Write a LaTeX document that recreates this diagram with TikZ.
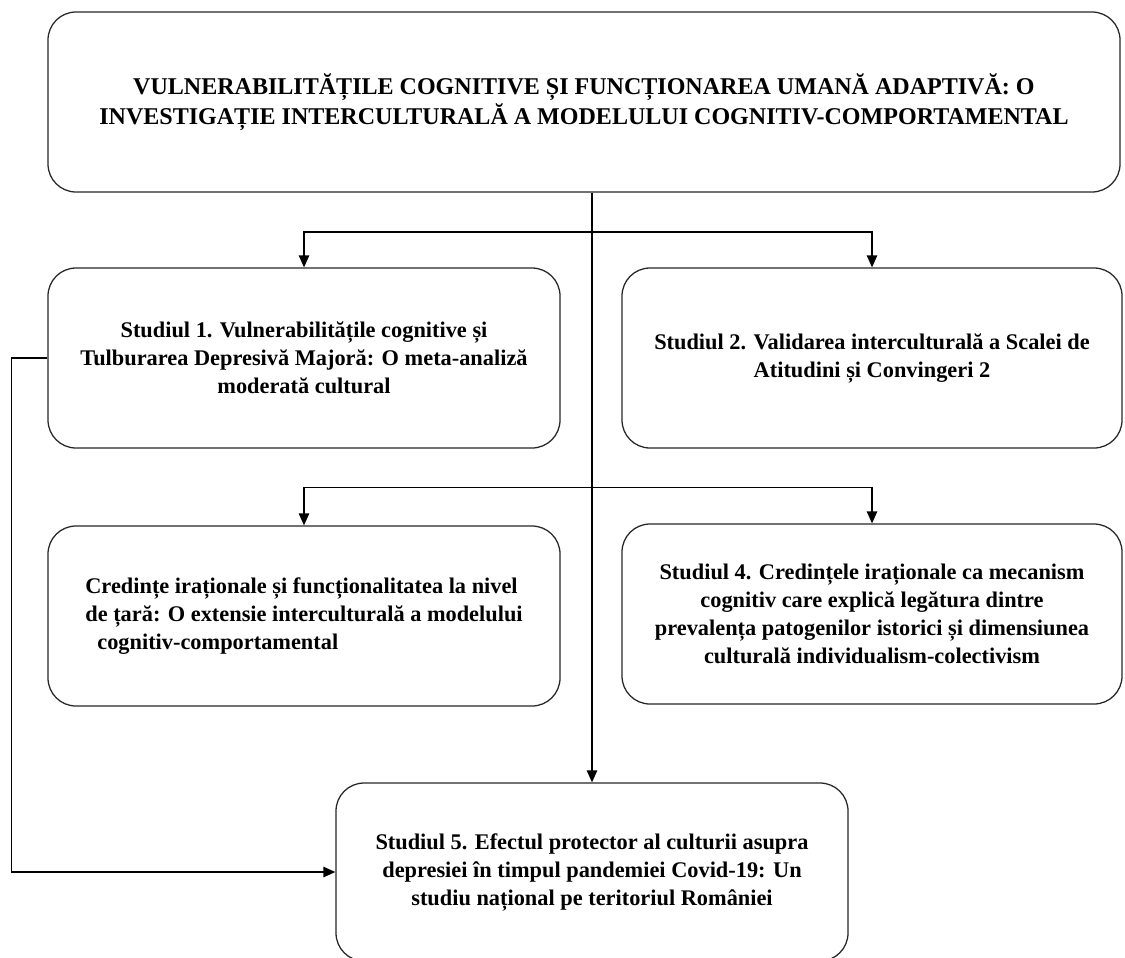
\documentclass[tikz,border=0pt]{standalone}
\usepackage{fontspec}
\setmainfont{Liberation Serif}
\usetikzlibrary{arrows.meta}

\begin{document}
\begin{tikzpicture}[>={Triangle[length=3mm,width=2.6mm]},
        studybox/.style={draw=black!85,line width=0.9pt,rounded corners=0.7cm,align=center,
                         minimum width=12.8cm,minimum height=4.5cm,
                         font=\fontsize{15.9}{19.9}\selectfont\bfseries},
        titlebox/.style={studybox,minimum width=26.8cm,
                         font=\fontsize{17.1}{21}\selectfont\bfseries}]
        \useasboundingbox (0,0) rectangle (28.125,-23.925);

        \node[titlebox] (title) at (14.6,-2.55)
              {VULNERABILITĂȚILE COGNITIVE ȘI FUNCȚIONAREA UMANĂ ADAPTIVĂ: O\\
               INVESTIGAȚIE INTERCULTURALĂ A MODELULUI COGNITIV-COMPORTAMENTAL};
        \node[studybox] (s1) at (7.6,-8.95)
              {Studiul 1. Vulnerabilitățile cognitive și\\
               Tulburarea Depresivă Majoră: O meta-analiză\\ moderată cultural};
        \node[studybox,minimum width=12.5cm] (s2) at (21.8,-8.95)
              {Studiul 2. Validarea interculturală a Scalei de\\ Atitudini și Convingeri 2};
        \node[studybox,align=left] (s3) at (7.6,-15.4)
              {Credințe iraționale și funcționalitatea la nivel\\
               de țară: O extensie interculturală a modelului\\
               \hspace*{0.3cm}cognitiv-comportamental};
        \node[studybox,minimum width=12.5cm] (s4) at (21.8,-15.35)
              {Studiul 4. Credințele iraționale ca mecanism\\
               cognitiv care explică legătura dintre\\
               prevalența patogenilor istorici și dimensiunea\\
               culturală individualism-colectivism};
        \node[studybox,minimum height=4.45cm] (s5) at (14.8,-21.8)
              {Studiul 5. Efectul protector al culturii asupra\\
               depresiei în timpul pandemiei Covid-19: Un\\
               studiu național pe teritoriul României};

        \coordinate (fork1) at (14.8,-5.8);
        \coordinate (fork2) at (14.8,-12.18);

        \draw[->,line width=1pt] (title.south -| s5.north) -- (s5.north);
        \draw[->,line width=1pt] (fork1) -| (s1.north);
        \draw[->,line width=1pt] (fork1) -| (s2.north);
        \draw[->,line width=1pt] (fork2) -| (s3.north);
        \draw[->,line width=1pt] (fork2) -| (s4.north);
        \draw[->,line width=1pt] (s1.west) -- ++(-0.9,0) |- (s5.west);
    \end{tikzpicture}
\end{document}
